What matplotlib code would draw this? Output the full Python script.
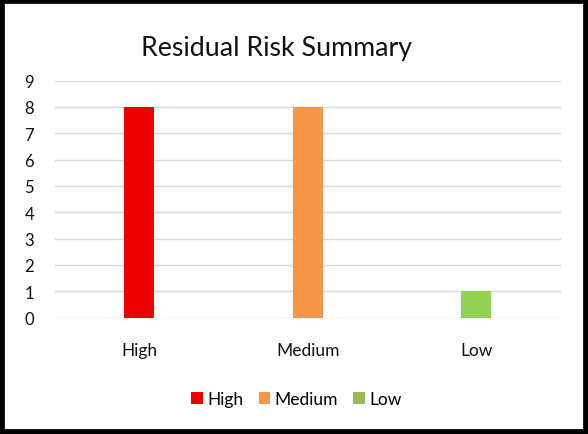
import matplotlib
matplotlib.use("Agg")
import matplotlib.pyplot as plt
from matplotlib.patches import Rectangle, Patch

categories = ["High", "Medium", "Low"]
values = [8, 8, 1]
bar_colors = ["#EE0000", "#F79646", "#92D050"]
legend_colors = ["#EE0000", "#F79646", "#9BBB59"]
yticks = list(range(0, 10))

plt.rcParams['font.family'] = ['Lato', 'DejaVu Sans']

fig = plt.figure(figsize=(5.88, 4.35), dpi=100)
ax = fig.add_axes([55/588, (435-318.5)/435, (560.5-55)/588, (318.5-81.5)/435])

x = list(range(len(categories)))
ax.bar(x, values, width=0.18, color=bar_colors, zorder=3)
ax.set_xlim(-0.5, 2.5)
ax.set_ylim(0, 9)
ax.set_yticks(yticks)
ax.set_xticks(x)
ax.set_xticklabels(categories, fontsize=12.5, color="#111111")
ax.tick_params(axis='y', length=0, pad=15, labelsize=12, labelcolor="#111111")
ax.tick_params(axis='x', length=0, pad=18)
ax.grid(axis='y', color="#D9D9D9", linewidth=1.0, zorder=0)
for s in ax.spines.values():
    s.set_visible(False)

fig.text(0.471, 0.888, "Residual Risk Summary", ha='center', va='center',
         fontsize=19.3, color="#111111")

handles = [Patch(facecolor=c, edgecolor='none', label=l) for c, l in zip(legend_colors, categories)]
fig.legend(handles=handles, loc='center', bbox_to_anchor=(0.504, 0.08), ncol=3,
           frameon=False, fontsize=12.5, handlelength=0.65, handleheight=0.65,
           handletextpad=0.25, columnspacing=0.9)

fig.patches.append(Rectangle((0, 0), 1, 1, transform=fig.transFigure, fill=False,
                             edgecolor='black', linewidth=7, zorder=10))
fig.savefig("out.png", dpi=100)
